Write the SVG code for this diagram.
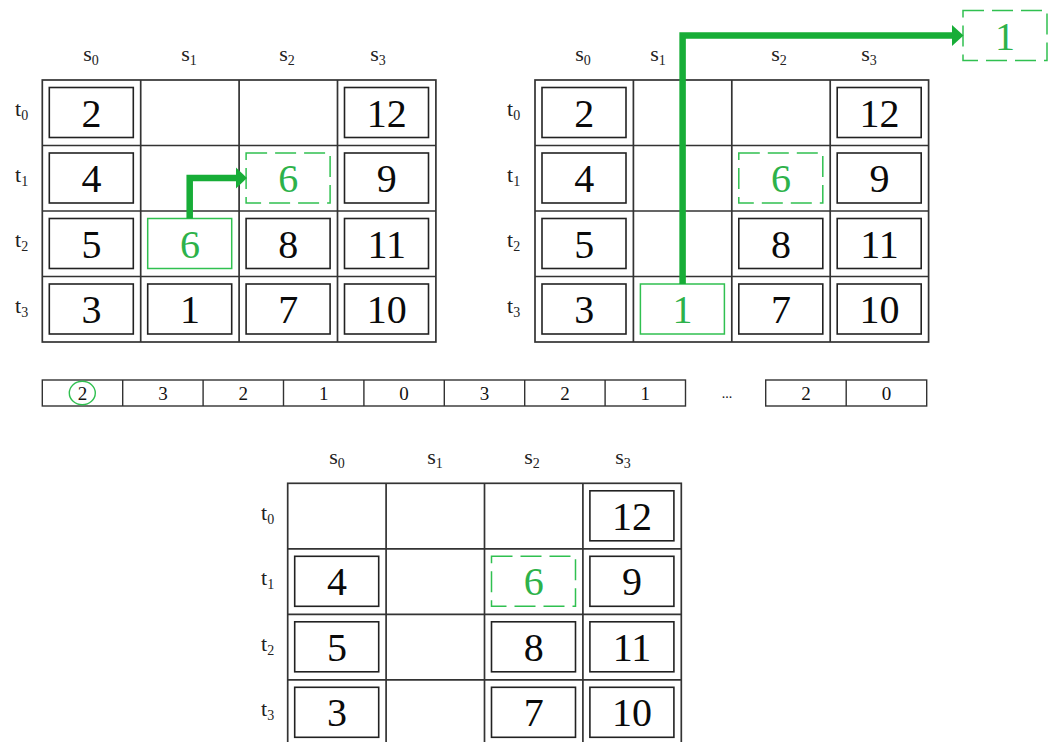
<svg xmlns="http://www.w3.org/2000/svg" width="1053" height="742" viewBox="0 0 1053 742">
<style>
text{font-family:"Liberation Serif","DejaVu Serif",serif}
.grid{fill:none;stroke:#333;stroke-width:1.7}
.box{fill:#fff;stroke:#222;stroke-width:1.6}
.gbox{fill:#fff;stroke:#30c050;stroke-width:1.5}
.dbox{fill:#fff;stroke:#30c050;stroke-width:1.5;stroke-dasharray:21 8}
.num{font-size:40px;fill:#0a0a0a;text-anchor:middle}
.gnum{font-size:40px;fill:#2db24a;text-anchor:middle}
.lab{font-size:22px;fill:#222;text-anchor:middle}
.rlab{font-size:22px;fill:#222}
.sub{font-size:14px}
.snum{font-size:19px;fill:#111;text-anchor:middle}
.arrow{fill:none;stroke:#17ad37;stroke-width:6.5;stroke-linejoin:miter}
.head{fill:#17ad37}
</style>

<!-- Top-left grid -->
<g id="grid-top-left">
<rect class="grid" x="42.3" y="80" width="393.6" height="262"/>
<path class="grid" d="M140.7,80V342M239.1,80V342M337.5,80V342M42.3,145.5H435.9M42.3,211H435.9M42.3,276.5H435.9"/>
<text class="lab" x="91" y="61">s<tspan class="sub" dy="4">0</tspan></text>
<text class="lab" x="189" y="61">s<tspan class="sub" dy="4">1</tspan></text>
<text class="lab" x="287" y="61">s<tspan class="sub" dy="4">2</tspan></text>
<text class="lab" x="378" y="61">s<tspan class="sub" dy="4">3</tspan></text>
<text class="rlab" x="15" y="116">t<tspan class="sub" dy="4">0</tspan></text>
<text class="rlab" x="15" y="182">t<tspan class="sub" dy="4">1</tspan></text>
<text class="rlab" x="15" y="247">t<tspan class="sub" dy="4">2</tspan></text>
<text class="rlab" x="15" y="313">t<tspan class="sub" dy="4">3</tspan></text>
</g>
<g id="tl-r0c0"><rect class="box" x="49.3" y="87.5" width="84" height="50"/><text class="num" x="91.5" y="126.5">2</text></g>
<g id="tl-r0c3"><rect class="box" x="344.5" y="87.5" width="84" height="50"/><text class="num" x="386.7" y="126.5">12</text></g>
<g id="tl-r1c0"><rect class="box" x="49.3" y="153" width="84" height="50"/><text class="num" x="91.5" y="192">4</text></g>
<g id="tl-r1c2"><rect class="dbox" x="246.1" y="153" width="84" height="50"/><text class="gnum" x="288.3" y="192">6</text></g>
<g id="tl-r1c3"><rect class="box" x="344.5" y="153" width="84" height="50"/><text class="num" x="386.7" y="192">9</text></g>
<g id="tl-r2c0"><rect class="box" x="49.3" y="218.5" width="84" height="50"/><text class="num" x="91.5" y="257.5">5</text></g>
<g id="tl-r2c1"><rect class="gbox" x="147.7" y="218.5" width="84" height="50"/><text class="gnum" x="189.9" y="257.5">6</text></g>
<g id="tl-r2c2"><rect class="box" x="246.1" y="218.5" width="84" height="50"/><text class="num" x="288.3" y="257.5">8</text></g>
<g id="tl-r2c3"><rect class="box" x="344.5" y="218.5" width="84" height="50"/><text class="num" x="386.7" y="257.5">11</text></g>
<g id="tl-r3c0"><rect class="box" x="49.3" y="284" width="84" height="50"/><text class="num" x="91.5" y="323">3</text></g>
<g id="tl-r3c1"><rect class="box" x="147.7" y="284" width="84" height="50"/><text class="num" x="189.9" y="323">1</text></g>
<g id="tl-r3c2"><rect class="box" x="246.1" y="284" width="84" height="50"/><text class="num" x="288.3" y="323">7</text></g>
<g id="tl-r3c3"><rect class="box" x="344.5" y="284" width="84" height="50"/><text class="num" x="386.7" y="323">10</text></g>

<!-- Top-right grid -->
<g id="grid-top-right">
<rect class="grid" x="535" y="80" width="393.6" height="262"/>
<path class="grid" d="M633.4,80V342M731.8,80V342M830.2,80V342M535,145.5H928.6M535,211H928.6M535,276.5H928.6"/>
<text class="lab" x="583" y="61">s<tspan class="sub" dy="4">0</tspan></text>
<text class="lab" x="658" y="61">s<tspan class="sub" dy="4">1</tspan></text>
<text class="lab" x="779" y="61">s<tspan class="sub" dy="4">2</tspan></text>
<text class="lab" x="869" y="61">s<tspan class="sub" dy="4">3</tspan></text>
<text class="rlab" x="507" y="116">t<tspan class="sub" dy="4">0</tspan></text>
<text class="rlab" x="507" y="182">t<tspan class="sub" dy="4">1</tspan></text>
<text class="rlab" x="507" y="247">t<tspan class="sub" dy="4">2</tspan></text>
<text class="rlab" x="507" y="313">t<tspan class="sub" dy="4">3</tspan></text>
</g>
<g id="tr-r0c0"><rect class="box" x="542" y="87.5" width="84" height="50"/><text class="num" x="584.2" y="126.5">2</text></g>
<g id="tr-r0c3"><rect class="box" x="837.2" y="87.5" width="84" height="50"/><text class="num" x="879.4" y="126.5">12</text></g>
<g id="tr-r1c0"><rect class="box" x="542" y="153" width="84" height="50"/><text class="num" x="584.2" y="192">4</text></g>
<g id="tr-r1c2"><rect class="dbox" x="738.8" y="153" width="84" height="50"/><text class="gnum" x="781" y="192">6</text></g>
<g id="tr-r1c3"><rect class="box" x="837.2" y="153" width="84" height="50"/><text class="num" x="879.4" y="192">9</text></g>
<g id="tr-r2c0"><rect class="box" x="542" y="218.5" width="84" height="50"/><text class="num" x="584.2" y="257.5">5</text></g>
<g id="tr-r2c2"><rect class="box" x="738.8" y="218.5" width="84" height="50"/><text class="num" x="781" y="257.5">8</text></g>
<g id="tr-r2c3"><rect class="box" x="837.2" y="218.5" width="84" height="50"/><text class="num" x="879.4" y="257.5">11</text></g>
<g id="tr-r3c0"><rect class="box" x="542" y="284" width="84" height="50"/><text class="num" x="584.2" y="323">3</text></g>
<g id="tr-r3c1"><rect class="gbox" x="640.4" y="284" width="84" height="50"/><text class="gnum" x="682.6" y="323">1</text></g>
<g id="tr-r3c2"><rect class="box" x="738.8" y="284" width="84" height="50"/><text class="num" x="781" y="323">7</text></g>
<g id="tr-r3c3"><rect class="box" x="837.2" y="284" width="84" height="50"/><text class="num" x="879.4" y="323">10</text></g>
<g id="tr-out"><rect class="dbox" x="963" y="10.5" width="84" height="50"/><text class="gnum" x="1005" y="49.5">1</text></g>

<!-- Array strip -->
<g id="strip">
<rect class="grid" x="42.3" y="380" width="643.2" height="26" style="stroke-width:1.4"/>
<path class="grid" style="stroke-width:1.4" d="M122.7,380V406M203.1,380V406M283.5,380V406M363.9,380V406M444.3,380V406M524.7,380V406M605.1,380V406"/>
<rect class="grid" x="765.7" y="380" width="161" height="26" style="stroke-width:1.4"/>
<path class="grid" style="stroke-width:1.4" d="M846.2,380V406"/>
<text class="snum" x="82.5" y="400">2</text>
<text class="snum" x="162.9" y="400">3</text>
<text class="snum" x="243.3" y="400">2</text>
<text class="snum" x="323.7" y="400">1</text>
<text class="snum" x="404.1" y="400">0</text>
<text class="snum" x="484.5" y="400">3</text>
<text class="snum" x="564.9" y="400">2</text>
<text class="snum" x="645.3" y="400">1</text>
<text class="snum" x="727" y="398" style="font-size:14px">...</text>
<text class="snum" x="806" y="400">2</text>
<text class="snum" x="886.5" y="400">0</text>
<ellipse cx="82.3" cy="393" rx="13" ry="11.8" fill="none" stroke="#30c050" stroke-width="1.4"/>
</g>

<!-- Bottom grid -->
<g id="grid-bottom">
<rect class="grid" x="287.7" y="483.3" width="393.6" height="262"/>
<path class="grid" d="M386.1,483.3V745.3M484.5,483.3V745.3M582.9,483.3V745.3M287.7,548.8H681.3M287.7,614.3H681.3M287.7,679.8H681.3"/>
<text class="lab" x="337" y="464">s<tspan class="sub" dy="4">0</tspan></text>
<text class="lab" x="435" y="464">s<tspan class="sub" dy="4">1</tspan></text>
<text class="lab" x="532" y="464">s<tspan class="sub" dy="4">2</tspan></text>
<text class="lab" x="623" y="464">s<tspan class="sub" dy="4">3</tspan></text>
<text class="rlab" x="261" y="520">t<tspan class="sub" dy="4">0</tspan></text>
<text class="rlab" x="261" y="585">t<tspan class="sub" dy="4">1</tspan></text>
<text class="rlab" x="261" y="651">t<tspan class="sub" dy="4">2</tspan></text>
<text class="rlab" x="261" y="716">t<tspan class="sub" dy="4">3</tspan></text>
</g>
<g id="b-r0c3"><rect class="box" x="589.9" y="490.8" width="84" height="50"/><text class="num" x="632.1" y="529.8">12</text></g>
<g id="b-r1c0"><rect class="box" x="294.7" y="556.3" width="84" height="50"/><text class="num" x="336.9" y="595.3">4</text></g>
<g id="b-r1c2"><rect class="dbox" x="491.5" y="556.3" width="84" height="50"/><text class="gnum" x="533.7" y="595.3">6</text></g>
<g id="b-r1c3"><rect class="box" x="589.9" y="556.3" width="84" height="50"/><text class="num" x="632.1" y="595.3">9</text></g>
<g id="b-r2c0"><rect class="box" x="294.7" y="621.8" width="84" height="50"/><text class="num" x="336.9" y="660.8">5</text></g>
<g id="b-r2c2"><rect class="box" x="491.5" y="621.8" width="84" height="50"/><text class="num" x="533.7" y="660.8">8</text></g>
<g id="b-r2c3"><rect class="box" x="589.9" y="621.8" width="84" height="50"/><text class="num" x="632.1" y="660.8">11</text></g>
<g id="b-r3c0"><rect class="box" x="294.7" y="687.3" width="84" height="50"/><text class="num" x="336.9" y="726.3">3</text></g>
<g id="b-r3c2"><rect class="box" x="491.5" y="687.3" width="84" height="50"/><text class="num" x="533.7" y="726.3">7</text></g>
<g id="b-r3c3"><rect class="box" x="589.9" y="687.3" width="84" height="50"/><text class="num" x="632.1" y="726.3">10</text></g>

<!-- Connectors -->
<g id="connectors">
<path class="arrow" d="M189.7,218.5V178H237"/>
<polygon class="head" points="236,167.5 247,178 236,188.5"/>
<path class="arrow" d="M682.6,284V35.5H953"/>
<polygon class="head" points="952,25 963.5,35.5 952,46"/>
</g>
</svg>
